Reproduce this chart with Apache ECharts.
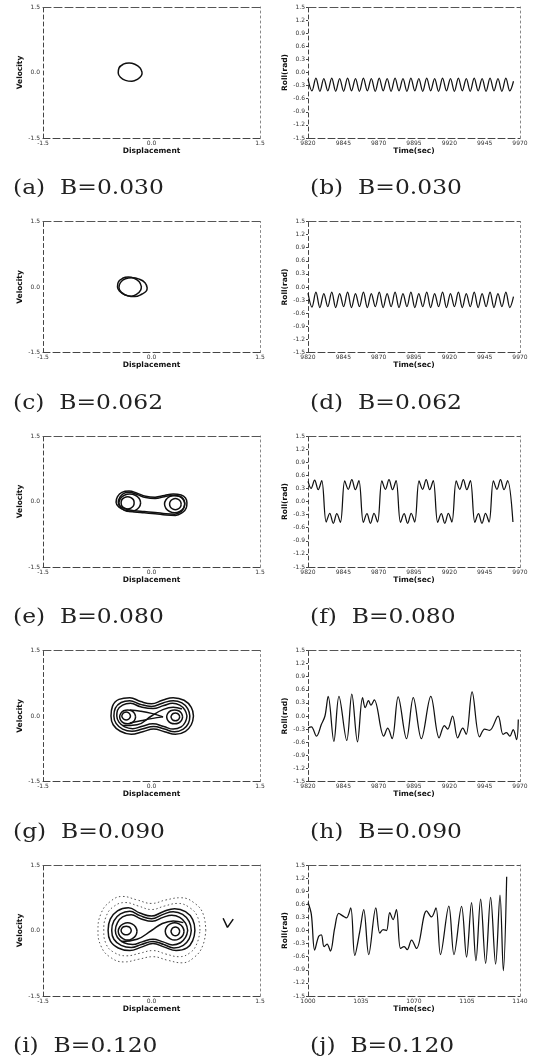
<!DOCTYPE html>
<html><head><meta charset="utf-8">
<script src="https://cdn.jsdelivr.net/npm/echarts@6/dist/echarts.min.js"></script>
<style>html,body{margin:0;padding:0;background:#fff}#c{width:542px;height:1060px}</style>
</head><body><div id="c"></div>
<script>
// ---------- captions & tick labels ----------
const captions = ['(a)  B=0.030','(b)  B=0.030','(c)  B=0.062','(d)  B=0.062','(e)  B=0.080','(f)  B=0.080','(g)  B=0.090','(h)  B=0.090','(i)  B=0.120','(j)  B=0.120'];
const phaseTicks = [-1.5, 0, 1.5];
const rollTicks = [-1.5,-1.2,-0.9,-0.6,-0.3,0,0.3,0.6,0.9,1.2,1.5];
const timeTicks1 = [9820,9845,9870,9895,9920,9945,9970];
const timeTicks2 = [1000,1035,1070,1105,1140];

// ---------- (a) phase ----------
const loopA = [[-0.13,0.0],[-0.16,0.11],[-0.23,0.19],[-0.31,0.22],[-0.39,0.19],[-0.45,0.1],[-0.46,-0.01],[-0.43,-0.11],[-0.36,-0.18],[-0.27,-0.2],[-0.19,-0.15],[-0.14,-0.07],[-0.13,0.0]];
// ---------- (b) roll ----------
const rollB = [[9820,-0.15],[9822.8,-0.42],[9825.6,-0.13],[9828.4,-0.43],[9831.2,-0.14],[9834.0,-0.42],[9836.8,-0.13],[9839.6,-0.43],[9842.4,-0.14],[9845.2,-0.43],[9848.0,-0.13],[9850.8,-0.42],[9853.6,-0.14],[9856.4,-0.43],[9859.2,-0.13],[9862.0,-0.42],[9864.8,-0.14],[9867.6,-0.43],[9870.4,-0.13],[9873.2,-0.42],[9876.0,-0.14],[9878.8,-0.43],[9881.6,-0.13],[9884.4,-0.42],[9887.2,-0.14],[9890.0,-0.43],[9892.8,-0.13],[9895.6,-0.42],[9898.4,-0.14],[9901.2,-0.43],[9904.0,-0.13],[9906.8,-0.42],[9909.6,-0.14],[9912.4,-0.43],[9915.2,-0.13],[9918.0,-0.42],[9920.8,-0.14],[9923.6,-0.43],[9926.4,-0.13],[9929.2,-0.42],[9932.0,-0.14],[9934.8,-0.43],[9937.6,-0.13],[9940.4,-0.42],[9943.2,-0.14],[9946.0,-0.43],[9948.8,-0.13],[9951.6,-0.42],[9954.4,-0.14],[9957.2,-0.43],[9960.0,-0.13],[9962.8,-0.42],[9965.4,-0.2]];
// ---------- (c) phase ----------
const loopC1 = [[-0.14,0.01],[-0.17,0.12],[-0.24,0.2],[-0.32,0.23],[-0.4,0.2],[-0.46,0.11],[-0.47,0.0],[-0.44,-0.1],[-0.37,-0.18],[-0.28,-0.21],[-0.2,-0.16],[-0.15,-0.07],[-0.14,0.01]];
const loopC2 = [[-0.06,-0.02],[-0.09,0.1],[-0.17,0.18],[-0.27,0.21],[-0.36,0.19],[-0.43,0.1],[-0.45,-0.02],[-0.41,-0.13],[-0.33,-0.2],[-0.23,-0.22],[-0.13,-0.16],[-0.07,-0.09],[-0.06,-0.02]];
// ---------- (d) roll ----------
const rollD = [[9820,-0.14],[9822.8,-0.46],[9825.6,-0.12],[9828.4,-0.47],[9831.2,-0.15],[9834.0,-0.45],[9836.8,-0.12],[9839.6,-0.47],[9842.4,-0.15],[9845.2,-0.45],[9848.0,-0.12],[9850.8,-0.47],[9853.6,-0.15],[9856.4,-0.45],[9859.2,-0.12],[9862.0,-0.47],[9864.8,-0.15],[9867.6,-0.45],[9870.4,-0.12],[9873.2,-0.47],[9876.0,-0.15],[9878.8,-0.45],[9881.6,-0.12],[9884.4,-0.47],[9887.2,-0.15],[9890.0,-0.45],[9892.8,-0.12],[9895.6,-0.47],[9898.4,-0.15],[9901.2,-0.45],[9904.0,-0.12],[9906.8,-0.47],[9909.6,-0.15],[9912.4,-0.45],[9915.2,-0.12],[9918.0,-0.47],[9920.8,-0.15],[9923.6,-0.45],[9926.4,-0.12],[9929.2,-0.47],[9932.0,-0.15],[9934.8,-0.45],[9937.6,-0.12],[9940.4,-0.47],[9943.2,-0.15],[9946.0,-0.45],[9948.8,-0.12],[9951.6,-0.47],[9954.4,-0.15],[9957.2,-0.45],[9960.0,-0.12],[9962.8,-0.47],[9965.4,-0.22]];
// ---------- (e) phase ----------
const eOuter1 = [[0.49,-0.03],[0.47,0.08],[0.41,0.15],[0.3,0.17],[0.18,0.14],[0.05,0.1],[-0.08,0.12],[-0.2,0.19],[-0.31,0.24],[-0.41,0.21],[-0.47,0.11],[-0.49,-0.02],[-0.45,-0.13],[-0.36,-0.2],[-0.24,-0.24],[-0.1,-0.26],[0.05,-0.28],[0.2,-0.31],[0.33,-0.32],[0.43,-0.25],[0.48,-0.15],[0.49,-0.03]];
const eOuter2 = [[0.46,-0.03],[0.44,0.06],[0.39,0.12],[0.3,0.14],[0.18,0.11],[0.05,0.07],[-0.08,0.09],[-0.2,0.16],[-0.31,0.21],[-0.39,0.18],[-0.44,0.09],[-0.46,-0.02],[-0.43,-0.11],[-0.35,-0.17],[-0.24,-0.21],[-0.1,-0.23],[0.05,-0.25],[0.2,-0.28],[0.32,-0.29],[0.41,-0.23],[0.45,-0.13],[0.46,-0.03]];
const eLeftRing = [[-0.15,-0.03],[-0.17,0.07],[-0.225,0.144],[-0.3,0.17],[-0.375,0.144],[-0.43,0.07],[-0.45,-0.03],[-0.43,-0.13],[-0.375,-0.204],[-0.3,-0.23],[-0.225,-0.204],[-0.17,-0.13],[-0.15,-0.03]];
const eLeftIn = [[-0.24,-0.03],[-0.25,0.04],[-0.285,0.09],[-0.33,0.11],[-0.375,0.09],[-0.41,0.04],[-0.42,-0.03],[-0.41,-0.1],[-0.375,-0.15],[-0.33,-0.17],[-0.285,-0.15],[-0.25,-0.1],[-0.24,-0.03]];
const eRightRing = [[0.46,-0.06],[0.44,0.04],[0.39,0.11],[0.32,0.14],[0.25,0.11],[0.2,0.04],[0.18,-0.06],[0.2,-0.16],[0.25,-0.23],[0.32,-0.26],[0.39,-0.23],[0.44,-0.16],[0.46,-0.06]];
const eRightIn = [[0.41,-0.06],[0.4,0.005],[0.37,0.05],[0.33,0.07],[0.29,0.05],[0.26,0.005],[0.25,-0.06],[0.26,-0.125],[0.29,-0.17],[0.33,-0.19],[0.37,-0.17],[0.4,-0.125],[0.41,-0.06]];
// ---------- (f) roll ----------
const rollF = [[9820,0.46],[9822.2,0.3],[9824.7,0.49],[9827.2,0.27],[9829.7,0.48],[9832.9,-0.47],[9835.4,-0.27],[9837.9,-0.5],[9840.4,-0.28],[9842.9,-0.48],
 [9846.0,0.47],[9848.5,0.28],[9851.0,0.5],[9853.5,0.27],[9856.0,0.48],[9859.2,-0.48],[9861.7,-0.28],[9864.2,-0.5],[9866.7,-0.27],[9869.2,-0.47],
 [9872.3,0.47],[9874.8,0.28],[9877.3,0.5],[9879.8,0.27],[9882.3,0.48],[9885.5,-0.48],[9888.0,-0.28],[9890.5,-0.5],[9893.0,-0.27],[9895.5,-0.47],
 [9898.6,0.47],[9901.1,0.28],[9903.6,0.5],[9906.1,0.27],[9908.6,0.48],[9911.8,-0.48],[9914.3,-0.28],[9916.8,-0.5],[9919.3,-0.27],[9921.8,-0.47],
 [9924.9,0.47],[9927.4,0.28],[9929.9,0.5],[9932.4,0.27],[9934.9,0.48],[9938.1,-0.48],[9940.6,-0.28],[9943.1,-0.5],[9945.6,-0.27],[9948.1,-0.47],
 [9951.2,0.47],[9953.7,0.28],[9956.2,0.5],[9958.7,0.27],[9961.2,0.48],[9965.0,-0.47]];
// ---------- (g) phase ----------
const gOuter1 = [[0.58,0.0],[0.55,0.2],[0.45,0.36],[0.3,0.42],[0.15,0.36],[0.0,0.28],[-0.15,0.33],[-0.3,0.42],[-0.45,0.38],[-0.54,0.22],[-0.56,0.0],[-0.53,-0.2],[-0.43,-0.35],[-0.28,-0.42],[-0.12,-0.36],[0.03,-0.3],[0.18,-0.36],[0.33,-0.42],[0.47,-0.35],[0.55,-0.2],[0.58,0.0]];
const gOuter2 = [[0.53,0.0],[0.5,0.17],[0.42,0.3],[0.3,0.35],[0.16,0.3],[0.0,0.22],[-0.16,0.27],[-0.3,0.35],[-0.42,0.31],[-0.5,0.18],[-0.52,0.0],[-0.49,-0.17],[-0.4,-0.3],[-0.27,-0.35],[-0.13,-0.3],[0.03,-0.24],[0.18,-0.3],[0.32,-0.36],[0.44,-0.3],[0.51,-0.17],[0.53,0.0]];
const gOuter3 = [[0.49,0.0],[0.46,0.14],[0.39,0.25],[0.29,0.29],[0.17,0.24],[0.02,0.17],[-0.15,0.21],[-0.29,0.29],[-0.4,0.25],[-0.47,0.13],[-0.48,0.0],[-0.45,-0.14],[-0.37,-0.25],[-0.26,-0.29],[-0.14,-0.24],[0.02,-0.18],[0.17,-0.24],[0.3,-0.3],[0.41,-0.25],[0.47,-0.13],[0.49,0.0]];
const gWedgeTop = [[-0.3,0.14],[-0.15,0.11],[0.0,0.06],[0.16,-0.02]];
const gWedgeBot = [[-0.3,-0.16],[-0.15,-0.11],[0.0,-0.06],[0.16,-0.02]];
const gCross = [[-0.4,-0.22],[-0.2,-0.2],[0.0,0.0],[0.15,0.14],[0.3,0.2],[0.42,0.16]];
const gLeftRing = [[-0.22,-0.02],[-0.235,0.06],[-0.275,0.12],[-0.33,0.14],[-0.385,0.12],[-0.425,0.06],[-0.44,-0.02],[-0.425,-0.1],[-0.385,-0.16],[-0.33,-0.18],[-0.275,-0.16],[-0.235,-0.1],[-0.22,-0.02]];
const gLeftIn = [[-0.29,0.0],[-0.3,0.045],[-0.32,0.078],[-0.35,0.09],[-0.38,0.078],[-0.4,0.045],[-0.41,0.0],[-0.4,-0.045],[-0.38,-0.078],[-0.35,-0.09],[-0.32,-0.078],[-0.3,-0.045],[-0.29,0.0]];
const gRightRing = [[0.43,-0.02],[0.415,0.06],[0.375,0.12],[0.32,0.14],[0.265,0.12],[0.225,0.06],[0.21,-0.02],[0.225,-0.1],[0.265,-0.16],[0.32,-0.18],[0.375,-0.16],[0.415,-0.1],[0.43,-0.02]];
const gRightIn = [[0.39,-0.02],[0.38,0.025],[0.36,0.058],[0.33,0.07],[0.3,0.058],[0.28,0.025],[0.27,-0.02],[0.28,-0.065],[0.3,-0.098],[0.33,-0.11],[0.36,-0.098],[0.38,-0.065],[0.39,-0.02]];
// ---------- (h) roll ----------
const rollH = [[9820,-0.27],[9822.4,-0.25],[9826,-0.46],[9829.5,-0.19],[9832,0.0],[9834.3,0.45],[9838.3,-0.58],[9841.9,0.45],[9847.4,-0.56],[9851,0.5],[9855,-0.59],[9858.6,0.42],[9860.5,0.19],[9862.8,0.35],[9864.5,0.25],[9866.9,0.37],[9873.6,-0.46],[9876.4,-0.28],[9879.5,-0.52],[9883.8,0.44],[9889.7,-0.52],[9894.5,0.42],[9900.2,-0.52],[9906.9,0.45],[9912.8,-0.5],[9916.5,-0.22],[9918.8,-0.3],[9922.3,0.0],[9925.9,-0.5],[9929.5,-0.28],[9931.9,-0.42],[9936.1,0.55],[9941.4,-0.48],[9945,-0.3],[9948.5,-0.33],[9954.5,0.0],[9958,-0.42],[9960.4,-0.38],[9962.8,-0.46],[9965.2,-0.31],[9967.6,-0.54],[9968.8,-0.08]];
// ---------- (i) phase ----------
const iOuter1 = [[0.6,0.0],[0.57,0.25],[0.47,0.43],[0.32,0.5],[0.16,0.43],[0.0,0.33],[-0.16,0.4],[-0.32,0.52],[-0.47,0.45],[-0.57,0.26],[-0.6,0.0],[-0.57,-0.24],[-0.46,-0.4],[-0.3,-0.46],[-0.14,-0.38],[0.02,-0.3],[0.18,-0.38],[0.34,-0.46],[0.49,-0.4],[0.57,-0.23],[0.6,0.0]];
const iOuter2 = [[0.55,0.0],[0.52,0.21],[0.43,0.37],[0.3,0.43],[0.16,0.37],[0.0,0.27],[-0.16,0.34],[-0.3,0.44],[-0.43,0.38],[-0.52,0.22],[-0.55,0.0],[-0.52,-0.2],[-0.42,-0.34],[-0.28,-0.39],[-0.14,-0.32],[0.02,-0.25],[0.17,-0.32],[0.31,-0.4],[0.44,-0.34],[0.52,-0.19],[0.55,0.0]];
const iOuter3 = [[0.5,0.0],[0.47,0.17],[0.39,0.3],[0.28,0.35],[0.16,0.3],[0.01,0.21],[-0.15,0.27],[-0.28,0.36],[-0.4,0.31],[-0.47,0.18],[-0.5,0.0],[-0.47,-0.16],[-0.38,-0.28],[-0.26,-0.32],[-0.13,-0.26],[0.02,-0.2],[0.16,-0.26],[0.29,-0.33],[0.4,-0.28],[0.47,-0.16],[0.5,0.0]];
const iCross = [[-0.42,-0.25],[-0.2,-0.2],[0.0,0.0],[0.15,0.16],[0.3,0.22],[0.44,0.18]];
const iLeftRing = [[-0.2,-0.02],[-0.22,0.08],[-0.27,0.15],[-0.33,0.18],[-0.39,0.15],[-0.44,0.08],[-0.46,-0.02],[-0.44,-0.12],[-0.39,-0.19],[-0.33,-0.22],[-0.27,-0.19],[-0.22,-0.12],[-0.2,-0.02]];
const iLeftIn = [[-0.28,0.0],[-0.29,0.05],[-0.315,0.085],[-0.35,0.1],[-0.385,0.085],[-0.41,0.05],[-0.42,0.0],[-0.41,-0.05],[-0.385,-0.085],[-0.35,-0.1],[-0.315,-0.085],[-0.29,-0.05],[-0.28,0.0]];
const iRightRing = [[0.45,-0.02],[0.43,0.08],[0.38,0.15],[0.32,0.18],[0.26,0.15],[0.21,0.08],[0.19,-0.02],[0.21,-0.12],[0.26,-0.19],[0.32,-0.22],[0.38,-0.19],[0.43,-0.12],[0.45,-0.02]];
const iRightIn = [[0.39,-0.02],[0.38,0.03],[0.36,0.065],[0.33,0.08],[0.3,0.065],[0.28,0.03],[0.27,-0.02],[0.28,-0.07],[0.3,-0.105],[0.33,-0.12],[0.36,-0.105],[0.38,-0.07],[0.39,-0.02]];
const iDot1 = [[0.75,0.0],[0.72,0.35],[0.6,0.62],[0.4,0.75],[0.2,0.7],[0.0,0.62],[-0.2,0.7],[-0.4,0.78],[-0.58,0.65],[-0.7,0.38],[-0.74,0.0],[-0.7,-0.35],[-0.58,-0.6],[-0.38,-0.72],[-0.18,-0.66],[0.02,-0.6],[0.22,-0.68],[0.42,-0.74],[0.6,-0.6],[0.71,-0.34],[0.75,0.0]];
const iDot2 = [[0.67,0.0],[0.64,0.3],[0.53,0.52],[0.36,0.62],[0.18,0.56],[0.0,0.48],[-0.18,0.56],[-0.36,0.64],[-0.53,0.54],[-0.63,0.31],[-0.66,0.0],[-0.63,-0.3],[-0.52,-0.5],[-0.34,-0.58],[-0.16,-0.52],[0.02,-0.46],[0.2,-0.54],[0.38,-0.6],[0.54,-0.5],[0.63,-0.29],[0.67,0.0]];
const iVee = [[0.99,0.28],[1.05,0.07],[1.13,0.26]];
// ---------- (j) roll ----------
const rollJ = [[1000,0.64],[1002.2,0.37],[1004.4,-0.45],[1007,-0.14],[1008.8,-0.1],[1010.6,-0.37],[1012.6,-0.31],[1014.8,-0.47],[1017.6,0.05],[1020.3,0.39],[1023.2,0.33],[1025.4,0.29],[1028.2,0.52],[1030.9,-0.57],[1034.2,-0.02],[1036.8,0.48],[1040.1,-0.55],[1044.8,0.52],[1047.4,-0.06],[1049.6,0.02],[1051.8,0.0],[1054,0.41],[1056.2,0.25],[1058.4,0.48],[1061.1,-0.41],[1063.5,-0.37],[1065.5,-0.44],[1068.4,-0.22],[1071.7,-0.41],[1078.3,0.45],[1081.6,0.31],[1084.5,0.52],[1087.5,-0.55],[1093,0.56],[1096.4,-0.55],[1101.4,0.55],[1104.7,-0.61],[1108,0.64],[1110.9,-0.69],[1114,0.72],[1117.3,-0.75],[1120.6,0.76],[1123.9,-0.77],[1126.8,0.81],[1129,-0.92],[1131.2,1.23]];

// ---------- panel assembly ----------
const panelLines = [
  [{d:loopA}],
  [{d:rollB}],
  [{d:loopC1},{d:loopC2}],
  [{d:rollD}],
  [{d:eOuter1},{d:eOuter2},{d:eLeftRing},{d:eLeftIn},{d:eRightRing},{d:eRightIn}],
  [{d:rollF}],
  [{d:gOuter1},{d:gOuter2},{d:gOuter3},{d:gWedgeTop},{d:gWedgeBot},{d:gCross},{d:gLeftRing},{d:gLeftIn},{d:gRightRing},{d:gRightIn}],
  [{d:rollH}],
  [{d:iDot1,dot:true},{d:iDot2,dot:true},{d:iOuter1},{d:iOuter2},{d:iOuter3},{d:iCross},{d:iLeftRing},{d:iLeftIn},{d:iRightRing},{d:iRightIn},{d:iVee,straight:true}],
  [{d:rollJ}]
];

const rowTop = [7, 221.5, 436, 650.5, 865];
const GH = 131;
const font = 'DejaVu Sans';
function fmt1(v){ return (Math.abs(v) < 1e-9 ? 0 : v).toFixed(1); }

const grids = [], xAxes = [], yAxes = [], series = [], graphics = [];
for (let p = 0; p < 10; p++) {
  const row = Math.floor(p/2), phase = (p % 2 === 0);
  grids.push({left: phase ? 43 : 308, width: phase ? 217 : 212, top: rowTop[row], height: GH});
}
for (let p = 0; p < 10; p++) {
  const phase = (p % 2 === 0);
  const xt = phase ? phaseTicks : (p === 9 ? timeTicks2 : timeTicks1);
  xAxes.push({
    gridIndex: p, type: 'value', position: 'bottom',
    min: xt[0], max: xt[xt.length-1],
    axisLine: {onZero: false, lineStyle: {color: '#444', width: 1, type: [7,3]}},
    axisTick: {show: false}, splitLine: {show: false},
    axisLabel: {customValues: xt, fontSize: 6, color: '#333', margin: 2, fontFamily: font,
      formatter: phase ? fmt1 : (v => String(Math.round(v)))},
    name: phase ? 'Displacement' : 'Time(sec)', nameLocation: 'middle', nameGap: 9,
    nameTextStyle: {fontSize: 7.5, fontWeight: 'bold', color: '#111', fontFamily: font}
  });
  const yt = phase ? phaseTicks : rollTicks;
  yAxes.push({
    gridIndex: p, type: 'value', position: 'left',
    min: -1.5, max: 1.5,
    axisLine: {onZero: false, lineStyle: {color: '#444', width: 1, type: [4,3]}},
    axisTick: {show: !phase, customValues: yt, length: 2, lineStyle: {color: '#444'}},
    splitLine: {show: false},
    axisLabel: {customValues: yt, fontSize: 6, color: '#333', margin: 3, fontFamily: font, formatter: fmt1},
    name: phase ? 'Velocity' : 'Roll(rad)', nameLocation: 'middle', nameGap: 14, nameRotate: 90,
    nameTextStyle: {fontSize: 7.5, fontWeight: 'bold', color: '#111', fontFamily: font}
  });
}
// frame: top and right edges
for (let p = 0; p < 10; p++) {
  const phase = (p % 2 === 0);
  const xt = phase ? phaseTicks : (p === 9 ? timeTicks2 : timeTicks1);
  xAxes.push({gridIndex: p, type: 'value', position: 'top', min: xt[0], max: xt[xt.length-1],
    axisLine: {onZero: false, lineStyle: {color: '#555', width: 1, type: [8,3]}},
    axisTick: {show: false}, axisLabel: {show: false}, splitLine: {show: false}});
  yAxes.push({gridIndex: p, type: 'value', position: 'right', min: -1.5, max: 1.5,
    axisLine: {onZero: false, lineStyle: {color: '#888', width: 1, type: [2,3]}},
    axisTick: {show: false}, axisLabel: {show: false}, splitLine: {show: false}});
}
for (let p = 0; p < 10; p++) {
  const phase = (p % 2 === 0);
  panelLines[p].forEach(L => {
    series.push({
      type: 'line', xAxisIndex: p, yAxisIndex: p, data: L.d,
      symbol: 'none', showSymbol: false, silent: true, animation: false,
      smooth: L.straight ? false : (phase ? 0.45 : 0.35),
      lineStyle: {color: L.dot ? '#555' : '#111', width: L.dot ? 1 : (phase ? 1.5 : 1.25), type: L.dot ? [1.5,2.5] : 'solid'}
    });
  });
  const row = Math.floor(p/2);
  graphics.push({
    type: 'text', x: phase ? 13 : 310, y: rowTop[row] + 182, scaleX: 1.17, scaleY: 1,
    style: {text: captions[p], font: '20px "DejaVu Serif"', fill: '#222', textVerticalAlign: 'middle'}
  });
}

const chart = echarts.init(document.getElementById('c'), null, {renderer: 'canvas'});
chart.setOption({
  backgroundColor: '#fff', animation: false,
  grid: grids, xAxis: xAxes, yAxis: yAxes, series: series, graphic: graphics
});
</script>
</body></html>
